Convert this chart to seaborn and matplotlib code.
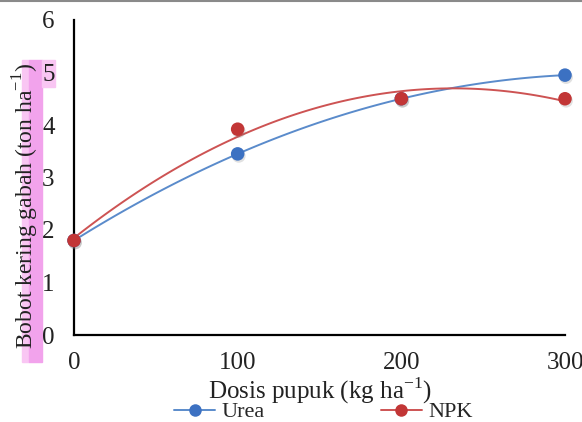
import matplotlib
matplotlib.use("Agg")
import matplotlib.pyplot as plt
import matplotlib.patheffects as pe
from matplotlib.lines import Line2D
from matplotlib.patches import Rectangle
import seaborn as sns
import pandas as pd

# data
dosis = [0, 100, 200, 300]
urea = [1.80, 3.45, 4.50, 4.95]
npk = [1.80, 3.92, 4.50, 4.50]
series_names = ["Urea", "NPK"]
x_ticks = [0, 100, 200, 300]
y_ticks = [0, 1, 2, 3, 4, 5, 6]

df = pd.DataFrame({"dosis": dosis * 2,
                   "bobot": urea + npk,
                   "pupuk": ["Urea"] * 4 + ["NPK"] * 4})

sns.set_style("white")
plt.rcParams["font.family"] = ["Liberation Serif", "DejaVu Serif"]
plt.rcParams["mathtext.fontset"] = "custom"
plt.rcParams["mathtext.rm"] = "Liberation Serif"

line_cols = {"Urea": "#5A8BCB", "NPK": "#CD5353"}
mark_cols = {"Urea": "#3C71C2", "NPK": "#C23636"}

fig = plt.figure(figsize=(5.82, 4.22), dpi=100)
ax = fig.add_axes([74 / 582, 87 / 422, 491 / 582, 315 / 422])
ax.set_facecolor("none")

shadow = [pe.SimplePatchShadow(offset=(0.8, -1.5), shadow_rgbFace="#777777", alpha=0.22), pe.Normal()]
for name in series_names:
    sub = df[df["pupuk"] == name]
    sns.regplot(data=sub, x="dosis", y="bobot", order=2, ci=None, ax=ax,
                scatter_kws={"s": 95, "color": mark_cols[name], "clip_on": False, "alpha": 1,
                             "zorder": 4, "linewidths": 0, "path_effects": shadow},
                line_kws={"color": line_cols[name], "lw": 1.4, "zorder": 3})

ax.set_xlim(0, 300)
ax.set_ylim(0, 6)
ax.set_xticks(x_ticks)
ax.set_yticks(y_ticks)
ax.tick_params(axis="both", length=0, labelsize=18, colors="#222222")
ax.tick_params(axis="x", pad=12)
ax.tick_params(axis="y", pad=14)
for s in ["top", "right"]:
    ax.spines[s].set_visible(False)
for s in ["left", "bottom"]:
    ax.spines[s].set_linewidth(1.6)
    ax.spines[s].set_color("black")
ax.set_xlabel("Dosis pupuk (kg ha$^{-1}$)", fontsize=18, labelpad=1, color="#222222")
ax.set_ylabel("")

# text highlight seen on the reference
fig.patches.append(Rectangle((22 / 582, 1 - 362 / 422), 7 / 582, 302 / 422,
                             transform=fig.transFigure, color="#F9C6F3", zorder=-5))
fig.patches.append(Rectangle((29 / 582, 1 - 362 / 422), 13 / 582, 302 / 422,
                             transform=fig.transFigure, color="#F2A3EC", zorder=-5))
fig.patches.append(Rectangle((42 / 582, 1 - 87 / 422), 13 / 582, 27 / 422,
                             transform=fig.transFigure, color="#F9C6F3", zorder=-5))

fig.text(26 / 582, 1 - 206 / 422, "Bobot kering gabah (ton ha$^{-1}$)", rotation=90,
         ha="center", va="center", fontsize=17, color="#222222")

# grey frame line at the very top
fig.add_artist(Line2D([0, 1], [1 - 1 / 422, 1 - 1 / 422], transform=fig.transFigure,
                      color="#8a8a8a", lw=1.5))

handles = [Line2D([], [], color=line_cols[n], marker="o", markersize=9,
                  markerfacecolor=mark_cols[n], markeredgewidth=0, lw=1.4)
           for n in series_names]
fig.legend(handles, series_names, loc="center", bbox_to_anchor=(323.5 / 582, 1 - 412 / 422),
           ncol=2, frameon=False, fontsize=16, columnspacing=5.2, handlelength=1.85,
           handletextpad=0.3, borderaxespad=0, borderpad=0)

fig.savefig("out.png", dpi=100)
